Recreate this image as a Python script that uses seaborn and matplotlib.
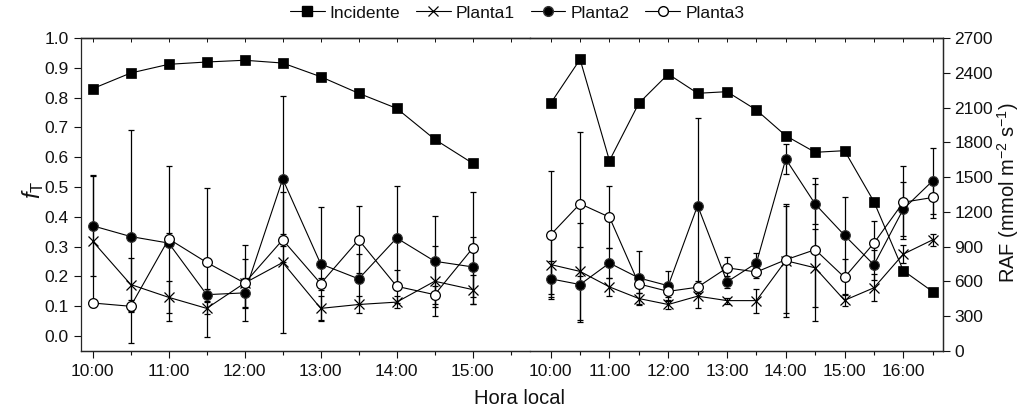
import numpy as np
import pandas as pd
import matplotlib
matplotlib.use('Agg')
import matplotlib.pyplot as plt
from matplotlib.lines import Line2D
import seaborn as sns


# %% data
times_d1 = ['10:00', '10:30', '11:00', '11:30', '12:00', '12:30', '13:00',
            '13:30', '14:00', '14:30', '15:00']
times_d2 = ['10:00', '10:30', '11:00', '11:30', '12:00', '12:30', '13:00',
            '13:30', '14:00', '14:30', '15:00', '15:30', '16:00', '16:30']

# radiacao incidente (RAF, eixo direito)
inc_d1 = [2263, 2398, 2473, 2493, 2508, 2484, 2366, 2223, 2093, 1826, 1619]
inc_d2 = [2137, 2516, 1642, 2137, 2389, 2223, 2237, 2079, 1857, 1714, 1728, 1288, 693, 512]

# fT por planta, dia 1
p1_d1 = [0.318, 0.173, 0.130, 0.093, 0.178, 0.247, 0.093, 0.106, 0.114, 0.184, 0.156]
p1_d1_err = [0.22, 0.09, 0.054, 0.02, 0.08, 0.238, 0.04, 0.03, 0.02, 0.117, 0.05]
p2_d1 = [0.370, 0.334, 0.312, 0.139, 0.145, 0.527, 0.242, 0.192, 0.329, 0.251, 0.232]
p2_d1_err = [0.17, 0.357, 0.26, 0.02, 0.05, 0.28, 0.19, 0.084, 0.173, 0.153, 0.10]
p3_d1 = [0.111, 0.100, 0.326, 0.247, 0.178, 0.323, 0.176, 0.323, 0.167, 0.139, 0.295]
p3_d1_err = [0.01, 0.02, 0.02, 0.25, 0.127, 0.02, 0.02, 0.112, 0.055, 0.03, 0.187]

# fT por planta, dia 2
p1_d2 = [0.240, 0.217, 0.165, 0.126, 0.106, 0.134, 0.119, 0.119, 0.253, 0.229, 0.120, 0.162, 0.275, 0.323]
p1_d2_err = [0.10, 0.164, 0.03, 0.02, 0.015, 0.04, 0.01, 0.04, 0.19, 0.13, 0.02, 0.045, 0.03, 0.02]
p2_d2 = [0.192, 0.173, 0.245, 0.195, 0.169, 0.438, 0.182, 0.245, 0.594, 0.443, 0.338, 0.239, 0.426, 0.521]
p2_d2_err = [0.06, 0.126, 0.05, 0.09, 0.05, 0.294, 0.02, 0.035, 0.05, 0.067, 0.13, 0.05, 0.09, 0.11]
p3_d2 = [0.340, 0.444, 0.399, 0.175, 0.150, 0.164, 0.229, 0.215, 0.256, 0.290, 0.197, 0.312, 0.449, 0.465]
p3_d2_err = [0.215, 0.242, 0.105, 0.03, 0.02, 0.02, 0.036, 0.02, 0.18, 0.24, 0.06, 0.075, 0.122, 0.07]


# %% style
sns.set_style('ticks')
plt.rcParams['font.family'] = ['Liberation Sans', 'DejaVu Sans']
plt.rcParams['mathtext.fontset'] = 'custom'
plt.rcParams['mathtext.rm'] = 'Liberation Sans'
plt.rcParams['mathtext.it'] = 'Liberation Sans:italic'
plt.rcParams['axes.linewidth'] = 0.9
plt.rcParams['text.color'] = '#111111'
plt.rcParams['xtick.color'] = '#111111'
plt.rcParams['ytick.color'] = '#111111'


def to_hours(tt):
    return [int(t.split(':')[0]) + int(t.split(':')[1]) / 60 for t in tt]


series_style = {
    'Planta1': dict(marker='x', mfc='black', mec='black', ms=7, mew=0.9),
    'Planta2': dict(marker='o', mfc='black', mec='#333333', ms=7, mew=0.8),
    'Planta3': dict(marker='o', mfc='white', mec='black', ms=7, mew=0.9),
}
inc_style = dict(marker='s', mfc='black', mec='black', ms=6.5, mew=0.5)


def draw_day(ax, times, p1, p1e, p2, p2e, p3, p3e):
    x = to_hours(times)
    df = pd.DataFrame({'hora': x * 3,
                       'fT': p1 + p2 + p3,
                       'err': p1e + p2e + p3e,
                       'serie': ['Planta1'] * len(x) + ['Planta2'] * len(x) + ['Planta3'] * len(x)})
    for name, g in df.groupby('serie'):
        ax.errorbar(g['hora'], g['fT'], yerr=g['err'], fmt='none', ecolor='black',
                    elinewidth=0.9, capsize=2.3, capthick=0.9, zorder=2)
        st = series_style[name]
        sns.lineplot(x='hora', y='fT', data=g, ax=ax, color='black', lw=0.8,
                     marker=st['marker'], markersize=st['ms'], markerfacecolor=st['mfc'],
                     markeredgecolor=st['mec'], markeredgewidth=st['mew'], zorder=3,
                     legend=False)


# %% figure
fig = plt.figure(figsize=(10.23, 4.16), dpi=100)
ax1 = fig.add_axes([80.7 / 1023, 65 / 416, (530 - 80.7) / 1023, 313 / 416])
ax2 = fig.add_axes([530 / 1023, 65 / 416, (942.7 - 530) / 1023, 313 / 416])

draw_day(ax1, times_d1, p1_d1, p1_d1_err, p2_d1, p2_d1_err, p3_d1, p3_d1_err)
draw_day(ax2, times_d2, p1_d2, p1_d2_err, p2_d2, p2_d2_err, p3_d2, p3_d2_err)

ax1r = ax1.twinx()
ax2r = ax2.twinx()
sns.lineplot(x=to_hours(times_d1), y=inc_d1, ax=ax1r, color='black', lw=0.8,
             marker=inc_style['marker'], markersize=inc_style['ms'],
             markerfacecolor='black', markeredgecolor='black', markeredgewidth=0.5)
sns.lineplot(x=to_hours(times_d2), y=inc_d2, ax=ax2r, color='black', lw=0.8,
             marker=inc_style['marker'], markersize=inc_style['ms'],
             markerfacecolor='black', markeredgecolor='black', markeredgewidth=0.5)

ax1.set_xlim(9.842, 15.754)
ax2.set_xlim(9.648, 16.670)
for a in [ax1, ax2, ax1r, ax2r]:
    a.set_xlabel('')
    a.set_ylabel('')
for a in [ax1, ax2]:
    a.set_ylim(-0.05, 1.0)
for a in [ax1r, ax2r]:
    a.set_ylim(0, 2700)

# spines
ax1.spines['right'].set_visible(False)
ax1r.spines['right'].set_visible(False)
ax1r.spines['left'].set_visible(False)
ax2.spines['left'].set_visible(False)
ax2r.spines['left'].set_visible(False)
for a in [ax1, ax2, ax1r, ax2r]:
    a.spines['top'].set_visible(True)
    a.spines['top'].set_linewidth(0.9)

# x ticks
maj1 = to_hours(times_d1)[::2]
min1 = to_hours(times_d1)[1::2] + [15.5]
maj2 = to_hours(times_d2)[::2]
min2 = to_hours(times_d2)[1::2]
ax1.set_xticks(maj1)
ax1.set_xticklabels(times_d1[::2])
ax1.set_xticks(min1, minor=True)
ax2.set_xticks(maj2)
ax2.set_xticklabels(times_d2[::2])
ax2.set_xticks(min2, minor=True)
for a, mj, mn in [(ax1, maj1, min1), (ax2, maj2, min2)]:
    a.tick_params(axis='x', which='major', direction='out', length=5, width=0.8,
                  labelsize=12.5, top=False, pad=4)
    a.tick_params(axis='x', which='minor', direction='out', length=3, width=0.8, top=False)
    sec = a.secondary_xaxis('top')
    sec.set_xticks(mj)
    sec.set_xticks(mn, minor=True)
    sec.tick_params(axis='x', which='both', direction='in', length=3, width=0.7,
                    labeltop=False)
    sec.spines['top'].set_linewidth(0.9)
for a in [ax1r, ax2r]:
    a.tick_params(axis='x', which='both', bottom=False, top=False, labelbottom=False)

# y ticks
ax1.set_yticks(np.arange(0, 1.01, 0.1))
ax1.set_yticklabels([f'{v:.1f}' for v in np.arange(0, 1.01, 0.1)])
ax1.tick_params(axis='y', direction='out', length=5, width=0.8, labelsize=12.5)
ax2.tick_params(axis='y', left=False, right=False, labelleft=False)
ax1r.tick_params(axis='y', right=False, left=False, labelright=False)
ax2r.set_yticks(np.arange(0, 2701, 300))
ax2r.tick_params(axis='y', direction='out', length=5, width=0.8, labelsize=12.5)

# labels
fig.text(33 / 1023, 1 - 190 / 416, r'$f_{\mathrm{T}}$', rotation=90, fontsize=17,
         ha='center', va='center')
fig.text(1008 / 1023, 1 - 193 / 416, r'RAF (mmol m$^{\mathrm{-2}}$ s$^{\mathrm{-1}}$)',
         rotation=90, fontsize=14.5, ha='center', va='center')
fig.text(520 / 1023, 1 - 399 / 416, 'Hora local', fontsize=14.5, ha='center', va='center')

# legend
handles = [
    Line2D([], [], color='black', lw=0.8, marker='s', ms=6.5, mfc='black', mec='black'),
    Line2D([], [], color='black', lw=0.8, marker='x', ms=7, mec='black', mew=0.9),
    Line2D([], [], color='black', lw=0.8, marker='o', ms=7, mfc='black', mec='#333333'),
    Line2D([], [], color='black', lw=0.8, marker='o', ms=7, mfc='white', mec='black'),
]
fig.legend(handles, ['Incidente', 'Planta1', 'Planta2', 'Planta3'], loc='center',
           bbox_to_anchor=(517 / 1023, 1 - 13 / 416), ncol=4, frameon=False,
           fontsize=12.5, handlelength=2.0, handletextpad=0.3, columnspacing=0.9)

fig.savefig('out.png', dpi=100)
